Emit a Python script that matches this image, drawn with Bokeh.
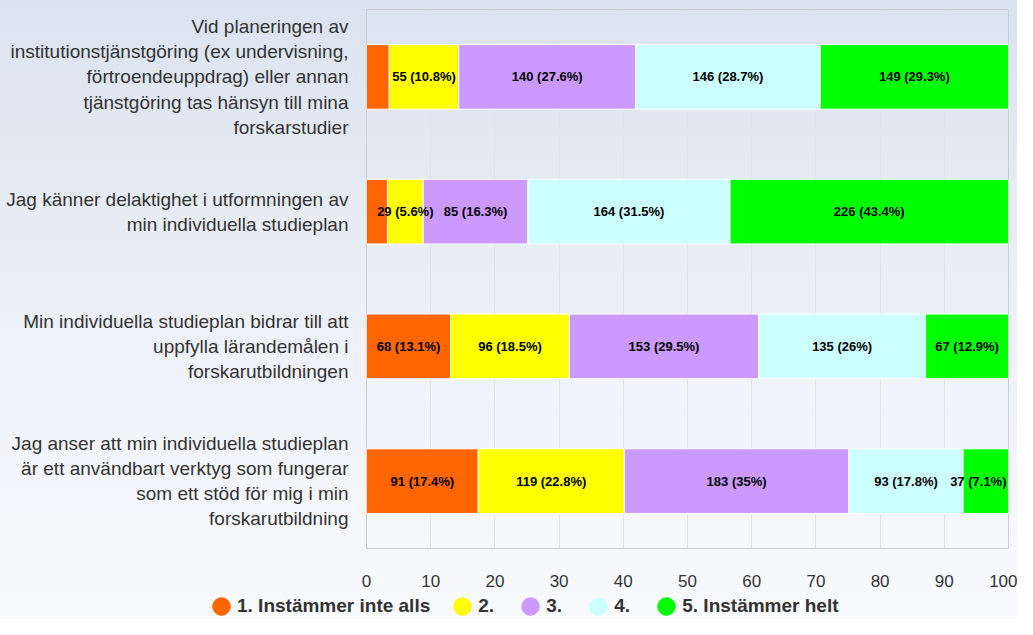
from bokeh.plotting import figure
from bokeh.layouts import column
from bokeh.models import FactorRange, Range1d, Legend, LegendItem, FixedTicker, ColumnDataSource
from bokeh.embed import file_html
from bokeh.resources import INLINE
from bokeh.core.properties import value

questions = [
    "Vid planeringen av\ninstitutionstjänstgöring (ex undervisning,\nförtroendeuppdrag) eller annan\ntjänstgöring tas hänsyn till mina\nforskarstudier",
    "Jag känner delaktighet i utformningen av\nmin individuella studieplan",
    "Min individuella studieplan bidrar till att\nuppfylla lärandemålen i\nforskarutbildningen",
    "Jag anser att min individuella studieplan\när ett användbart verktyg som fungerar\nsom ett stöd för mig i min\nforskarutbildning",
]
series_names = ["1. Instämmer inte alls", "2.", "3.", "4.", "5. Instämmer helt"]
colors = ["#ff6600", "#ffff00", "#cc99ff", "#ccffff", "#00ff00"]
s1 = [18, 17, 68, 91]
s2 = [55, 29, 96, 119]
s3 = [140, 85, 153, 183]
s4 = [146, 164, 135, 93]
s5 = [149, 226, 67, 37]
x_ticks = [0, 10, 20, 30, 40, 50, 60, 70, 80, 90, 100]

series = [s1, s2, s3, s4, s5]
n = len(questions)
totals = [sum(s[i] for s in series) for i in range(n)]

FONT = "Liberation Sans"

p = figure(
    width=1017, height=590,
    y_range=FactorRange(factors=list(reversed(questions))),
    x_range=Range1d(0, 100),
    output_backend="svg", toolbar_location=None,
    min_border_left=366, min_border_right=9, min_border_top=9, min_border_bottom=42,
)
p.frame_align = False
p.border_fill_alpha = 0
p.background_fill_alpha = 0
p.outline_line_color = "#cccccc"

fmt = lambda v: ("%.1f" % v).rstrip("0").rstrip(".")

left = [0.0] * n
sources = []
for k, s in enumerate(series):
    pct = [s[i] / totals[i] * 100 for i in range(n)]
    right = [left[i] + pct[i] for i in range(n)]
    centers = [(left[i] + right[i]) / 2 for i in range(n)]
    near_end = [c > 95 for c in centers]
    src = ColumnDataSource(dict(
        y=questions, left=list(left), right=right,
        xc=[100 if near_end[i] else centers[i] for i in range(n)],
        align=["right" if near_end[i] else "center" for i in range(n)],
        xoff=[-2 if near_end[i] else 0 for i in range(n)],
        lab=[("%d (%s%%)" % (s[i], fmt(pct[i]))) if pct[i] >= 4 else "" for i in range(n)],
    ))
    sources.append(src)
    p.hbar(y="y", left="left", right="right", height=0.48, source=src,
           fill_color=colors[k], line_color="white", line_width=1)
    left = right

for src in sources:
    p.text(x="xc", y="y", text="lab", source=src, text_align="align", text_baseline="middle",
           x_offset="xoff",
           text_font=value(FONT), text_font_size="13px", text_font_style="bold",
           text_color="black")

p.xaxis.ticker = FixedTicker(ticks=x_ticks)
p.xaxis.axis_line_color = None
p.xaxis.major_tick_line_color = None
p.xaxis.minor_tick_line_color = None
p.xaxis.major_label_text_font = FONT
p.xaxis.major_label_text_font_size = "17px"
p.xaxis.major_label_text_color = "#333333"
p.xaxis.major_label_standoff = 20

p.yaxis.axis_line_color = None
p.yaxis.major_tick_line_color = None
p.yaxis.major_tick_out = 0
p.yaxis.major_label_text_font = FONT
p.yaxis.major_label_text_font_size = "19px"
p.yaxis.major_label_text_color = "#333333"
p.yaxis.major_label_standoff = 18

p.xgrid.grid_line_color = "#e3e3e3"
p.ygrid.grid_line_color = None

# legend strip
lg = figure(width=1017, height=29, output_backend="svg", toolbar_location=None,
            x_axis_type=None, y_axis_type=None,
            min_border_left=0, min_border_right=0, min_border_top=0, min_border_bottom=0)
lg.frame_align = False
lg.border_fill_alpha = 0
lg.background_fill_alpha = 0
lg.outline_line_color = None
lg.grid.grid_line_color = None
items = []
for k, name in enumerate(series_names):
    r = lg.ellipse(x=[float("nan")], y=[float("nan")], width=16, height=16,
                   width_units="screen", height_units="screen",
                   fill_color=colors[k], line_color=colors[k])
    items.append(LegendItem(label=name, renderers=[r]))
legend = Legend(items=items, orientation="horizontal", location=(210, 2),
                glyph_width=22, glyph_height=22, label_standoff=5, spacing=21,
                padding=0, margin=0, border_line_color=None, background_fill_alpha=0,
                label_text_font=FONT, label_text_font_size="19px", label_text_font_style="bold",
                label_text_color="#333333", label_height=22, label_text_baseline="middle")
lg.add_layout(legend, "center")

layout = column(p, lg, spacing=0)
layout.styles = {"background": "linear-gradient(180deg, #dae3f0 0%, #eef1f7 55%, #f9fafd 100%)"}

open("out.html", "w").write(file_html(layout, INLINE))
